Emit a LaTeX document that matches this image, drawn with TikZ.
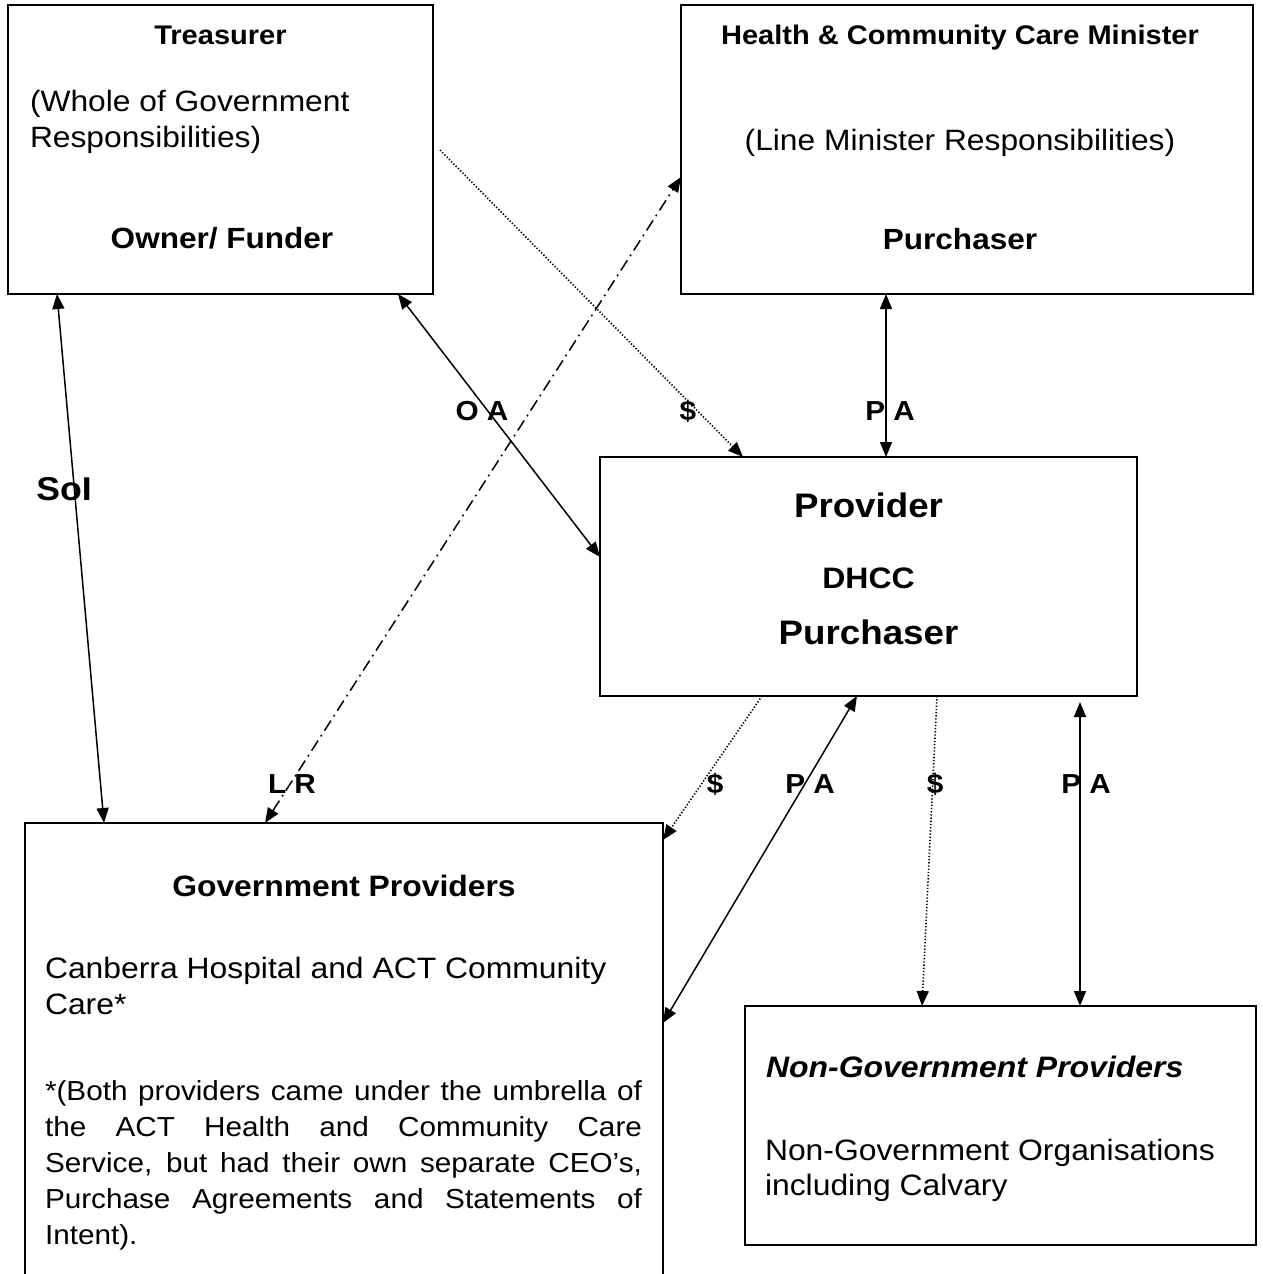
\documentclass[tikz,border=0pt]{standalone}
\usepackage{fontspec}
\setmainfont{Liberation Sans}[FakeStretch=1.08]
\usetikzlibrary{arrows.meta}
\tikzset{
  >={Triangle[length=15pt,width=12pt]},
  box/.style={draw, line width=1.8pt, inner sep=0pt, outer sep=0pt},
  solidc/.style={line width=1.5pt},
  dotc/.style={line width=1.6pt, dash pattern=on 1.3pt off 1.9pt},
  dashdotc/.style={line width=1.5pt, dash pattern=on 12pt off 5pt on 1.8pt off 5pt},
  txt/.style={inner sep=0pt, outer sep=0pt, anchor=base},
  smallhead/.style={txt, font=\bfseries\fontsize{26.9}{31}\selectfont},
  bighead/.style={txt, font=\bfseries\fontsize{29.2}{34}\selectfont},
  huge/.style={txt, font=\bfseries\fontsize{34}{40}\selectfont},
  plain/.style={txt, font=\fontsize{29.4}{36}\selectfont},
  govtxt/.style={txt, anchor=base west, font=\fontsize{29.5}{36}\selectfont},
  notetxt/.style={txt, anchor=base west, font=\fontsize{27.5}{36}\selectfont},
  lbl/.style={txt, font=\bfseries\fontsize{27.5}{32}\selectfont},
}
\begin{document}
\begin{tikzpicture}[x=1pt,y=-1pt]
\path[use as bounding box] (0,0) rectangle (1262,1274);
\clip (0,0) rectangle (1262,1274);

% boxes
\node[box, minimum width=425pt, minimum height=289pt] (treas) at (220.5,149.5) {};
\node[box, minimum width=572pt, minimum height=289pt] (hcc) at (967,149.5) {};
\node[box, minimum width=537pt, minimum height=239pt] (prov) at (868.5,576.5) {};
\node[box, minimum width=638pt, minimum height=477pt] (gov) at (344,1061.5) {};
\node[box, minimum width=511pt, minimum height=239pt] (ngo) at (1000.5,1125.5) {};

% Treasurer text
\node[smallhead] (treasT) at (220.5,44) {Treasurer};
\node[plain, anchor=base west] (treasB1) at (30,111) {(Whole of Government};
\node[plain, anchor=base west] (treasB2) at (30,147) {Responsibilities)};
\node[bighead] (treasO) at (222,248) {Owner/ Funder};

% Minister text
\node[smallhead] (hccT) at (960,44) {Health \& Community Care Minister};
\node[plain] (hccB) at (960,150) {(Line Minister Responsibilities)};
\node[bighead] (hccP) at (960,249) {Purchaser};

% Provider text
\node[huge] (provT) at (868.5,517) {Provider};
\node[txt, font=\bfseries\fontsize{29.6}{34}\selectfont] (provD) at (868.5,588) {DHCC};
\node[huge] (provP) at (868.5,644) {Purchaser};

% Government providers text
\node[txt, font=\bfseries\fontsize{29.5}{34}\selectfont] (govT) at (344,896) {Government Providers};
\node[govtxt] (govB1) at (45,978) {Canberra Hospital and ACT Community};
\node[govtxt] (govB2) at (45,1014.5) {Care*};
\node[notetxt] (govN1) at (45,1100.5) {\makebox[597pt][s]{*(Both providers came under the umbrella of}};
\node[notetxt] (govN2) at (45,1136.5) {\makebox[597pt][s]{the ACT Health and Community Care}};
\node[notetxt] (govN3) at (45,1172.5) {\makebox[597pt][s]{Service, but had their own separate CEO’s,}};
\node[notetxt] (govN4) at (45,1208.5) {\makebox[597pt][s]{Purchase Agreements and Statements of}};
\node[notetxt] (govN5) at (45,1244.5) {Intent).};

% Non-government text
\node[txt, anchor=base west, font=\bfseries\itshape\fontsize{29.6}{34}\selectfont] (ngoT) at (766,1077.5) {Non-Government Providers};
\node[govtxt] (ngoB1) at (765,1160.5) {Non-Government Organisations};
\node[govtxt] (ngoB2) at (765,1195.5) {including Calvary};

% connectors
\coordinate (dolstart) at (440,150);
\draw[solidc, <->] ([xshift=49pt]treas.south west) -- ([xshift=79pt]gov.north west);
\draw[solidc, <->] ([xshift=-35pt]treas.south east) -- ([yshift=-100pt]prov.north west);
\draw[dotc, ->] (dolstart) -- ([xshift=143pt]prov.north west);
\draw[dashdotc, <->] ([xshift=240pt]gov.north west) -- ([yshift=-27.5pt]hcc.west);
\draw[solidc, <->] ([xshift=-81pt]hcc.south) -- ([xshift=17.5pt]prov.north);
\draw[dotc, ->] ([xshift=162pt]prov.south west) -- ([yshift=-17pt]gov.north east);
\draw[solidc, <->] ([xshift=257pt]prov.south west) -- ([yshift=-200pt]gov.north east);
\draw[dotc, ->] ([xshift=337pt]prov.south west) -- ([xshift=177pt]ngo.north west);
\draw[solidc, <->] ([xshift=480pt,yshift=-6pt]prov.south west) -- ([xshift=335pt]ngo.north west);

% labels
\node[lbl] (lOA) at (482,420) {O A};
\node[lbl] (lD1) at (688,420) {\$};
\node[lbl] (lPA1) at (890,420) {P A};
\node[txt, font=\bfseries\fontsize{33}{38}\selectfont] (lSoI) at (64,500) {SoI};
\node[lbl] (lLR) at (292,793) {L R};
\node[lbl] (lD2) at (715,793) {\$};
\node[lbl] (lPA2) at (810,793) {P A};
\node[lbl] (lD3) at (935,793) {\$};
\node[lbl] (lPA3) at (1086,793) {P A};
\end{tikzpicture}
\end{document}
